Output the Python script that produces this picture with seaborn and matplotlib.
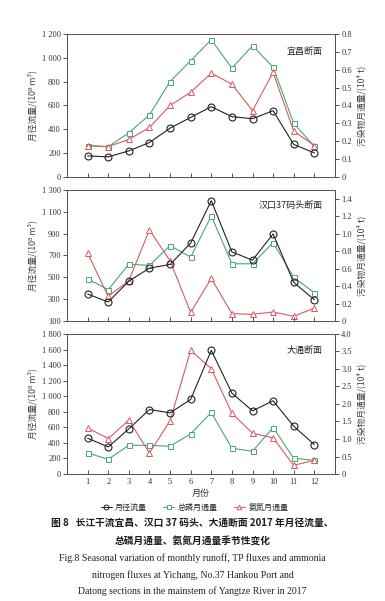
import matplotlib
matplotlib.use("Agg")
import matplotlib.pyplot as plt
import seaborn as sns
import pandas as pd
from matplotlib.lines import Line2D

sns.set_style("ticks")
plt.rcParams['font.family'] = ['Liberation Serif', 'Noto Sans CJK SC', 'DejaVu Sans']
plt.rcParams['axes.unicode_minus'] = False

months = list(range(1, 13))

# 宜昌
yc_runoff = [177, 169, 219, 289, 410, 500, 590, 506, 489, 556, 273, 202]
yc_tp = [0.174, 0.169, 0.247, 0.347, 0.534, 0.650, 0.768, 0.609, 0.734, 0.614, 0.300, 0.172]
yc_nh = [0.176, 0.170, 0.210, 0.277, 0.400, 0.474, 0.581, 0.519, 0.371, 0.585, 0.257, 0.176]
# 汉口37码头
hk_runoff = [347, 274, 465, 584, 618, 813, 1202, 733, 657, 898, 453, 295]
hk_tp = [0.483, 0.358, 0.651, 0.636, 0.864, 0.731, 1.203, 0.655, 0.655, 0.898, 0.499, 0.324]
hk_nh = [0.777, 0.282, 0.461, 1.043, 0.689, 0.099, 0.487, 0.084, 0.076, 0.103, 0.053, 0.148]
# 大通
dt_runoff = [460, 348, 580, 829, 786, 958, 1590, 1040, 812, 941, 614, 378]
dt_tp = [0.601, 0.420, 0.821, 0.821, 0.792, 1.146, 1.757, 0.735, 0.649, 1.327, 0.449, 0.391]
dt_nh = [1.317, 1.012, 1.537, 0.601, 1.518, 3.532, 3.007, 1.737, 1.165, 1.031, 0.248, 0.391]

panel_names = ["宜昌断面", "汉口37码头断面", "大通断面"]
left_ticks = [[0, 200, 400, 600, 800, 1000, 1200],
              [100, 300, 500, 700, 900, 1100, 1300],
              [0, 200, 400, 600, 800, 1000, 1200, 1400, 1600, 1800]]
left_lims = [(0, 1200), (100, 1300), (0, 1800)]
right_ticks = [[0, 0.1, 0.2, 0.3, 0.4, 0.5, 0.6, 0.7, 0.8],
               [0, 0.2, 0.4, 0.6, 0.8, 1.0, 1.2, 1.4],
               [0, 0.5, 1.0, 1.5, 2.0, 2.5, 3.0, 3.5, 4.0]]
right_labels = [["0", "0.1", "0.2", "0.3", "0.4", "0.5", "0.6", "0.7", "0.8"],
                ["0", "0.2", "0.4", "0.6", "0.8", "1.0", "1.2", "1.4"],
                ["0", "0.5", "1.0", "1.5", "2.0", "2.5", "3.0", "3.5", "4.0"]]
right_lims = [(0, 0.8), (0, 1.5), (0, 4.0)]

series = [(yc_runoff, yc_tp, yc_nh), (hk_runoff, hk_tp, hk_nh), (dt_runoff, dt_tp, dt_nh)]

BLACK = '#222222'
GREEN = '#4aa57a'
RED = '#d65a5f'
SPINE = '#555555'
LABEL_FAM = ['Noto Sans CJK SC', 'DejaVu Sans']

fig = plt.figure(figsize=(3.85, 6.01), dpi=100)
positions = [[0.174, 0.7055, 0.696, 0.238],
             [0.174, 0.4659, 0.696, 0.218],
             [0.174, 0.2113, 0.696, 0.233]]

def fmt(v):
    return f"{int(v):,}".replace(",", " ")

for i in range(3):
    ax = fig.add_axes(positions[i])
    ax2 = ax.twinx()
    r, tp, nh = series[i]
    df = pd.DataFrame({"month": months, "runoff": r, "tp": tp, "nh": nh})
    sns.lineplot(data=df, x="month", y="tp", ax=ax2, color=GREEN, lw=0.8,
                 marker='s', markersize=3.6, markerfacecolor='white',
                 markeredgecolor=GREEN, markeredgewidth=0.7)
    sns.lineplot(data=df, x="month", y="nh", ax=ax2, color=RED, lw=0.8,
                 marker='^', markersize=4.2, markerfacecolor='white',
                 markeredgecolor=RED, markeredgewidth=0.7)
    sns.lineplot(data=df, x="month", y="runoff", ax=ax, color=BLACK, lw=0.8,
                 marker='o', markersize=5, markerfacecolor='none',
                 markeredgecolor=BLACK, markeredgewidth=0.8)
    ax.set_zorder(ax2.get_zorder() + 1)
    ax.patch.set_visible(False)

    ax.set_xlim(0, 13)
    ax.set_ylim(*left_lims[i])
    ax.set_yticks(left_ticks[i])
    ax.set_yticklabels([fmt(v) for v in left_ticks[i]])
    ax2.set_ylim(*right_lims[i])
    ax2.set_yticks(right_ticks[i])
    ax2.set_yticklabels(right_labels[i])
    ax.set_xticks(months)
    if i == 2:
        ax.set_xticklabels([str(m) for m in months])
        ax.set_xlabel("月份", fontsize=6.5, family=LABEL_FAM, color='#333333', labelpad=2)
    else:
        ax.set_xticklabels([])
        ax.set_xlabel("")
    ax.tick_params(axis='x', direction='in', length=3, width=0.6, labelsize=6, colors='#333333', pad=3)
    ax.tick_params(axis='y', direction='out', length=3, width=0.6, labelsize=6, colors='#333333', pad=1.5)
    ax2.tick_params(axis='y', direction='out', length=3, width=0.6, labelsize=6, colors='#333333', pad=1.5)
    ax.set_ylabel("月径流量/(10⁸ m³)", fontsize=6.3, family=LABEL_FAM, color='#444444', labelpad=3)
    ax2.set_ylabel("污染物月通量/(10⁴ t)", fontsize=6.3, family=LABEL_FAM, color='#444444',
                   rotation=90, labelpad=3)
    for a in (ax, ax2):
        for s in a.spines.values():
            s.set_visible(True)
            s.set_linewidth(0.7)
            s.set_color(SPINE)
    ax.text(0.955, 0.88, panel_names[i], transform=ax.transAxes, ha='right', va='center',
            fontsize=6.5, family=LABEL_FAM, color='#222222')
    if ax.get_legend():
        ax.get_legend().remove()
    if ax2.get_legend():
        ax2.get_legend().remove()

handles = [
    Line2D([0], [0], color=BLACK, lw=0.7, marker='o', markersize=3.5, markerfacecolor='none', markeredgewidth=0.7),
    Line2D([0], [0], color=GREEN, lw=0.7, marker='s', markersize=3, markerfacecolor='white', markeredgewidth=0.7),
    Line2D([0], [0], color=RED, lw=0.7, marker='^', markersize=3.3, markerfacecolor='white', markeredgewidth=0.7),
]
fig.legend(handles, ["月径流量", "总磷月通量", "氨氮月通量"], loc='center', bbox_to_anchor=(0.505, 1 - 507 / 601),
           ncol=3, frameon=False, prop={'family': LABEL_FAM, 'size': 5.8},
           handlelength=1.4, columnspacing=2.0, handletextpad=0.4)

cjk_bold = dict(family=['Noto Sans CJK SC'], fontweight='bold', fontsize=7.0, color='#1a1a1a')
fig.text(0.5, 1 - 523 / 601, "图 8   长江干流宜昌、汉口 37 码头、大通断面 2017 年月径流量、",
         ha='center', va='center', **cjk_bold)
fig.text(0.5, 1 - 541 / 601, "总磷月通量、氨氮月通量季节性变化", ha='center', va='center', **cjk_bold)
en = dict(family=['Liberation Serif'], fontsize=7.0, color='#222222')
fig.text(0.5, 1 - 558 / 601, "Fig.8 Seasonal variation of monthly runoff, TP fluxes and ammonia",
         ha='center', va='center', **en)
fig.text(0.5, 1 - 575 / 601, "nitrogen fluxes at Yichang, No.37 Hankou Port and",
         ha='center', va='center', **en)
fig.text(0.5, 1 - 591 / 601, "Datong sections in the mainstem of Yangtze River in 2017",
         ha='center', va='center', **en)

fig.savefig("out.png", dpi=100)
